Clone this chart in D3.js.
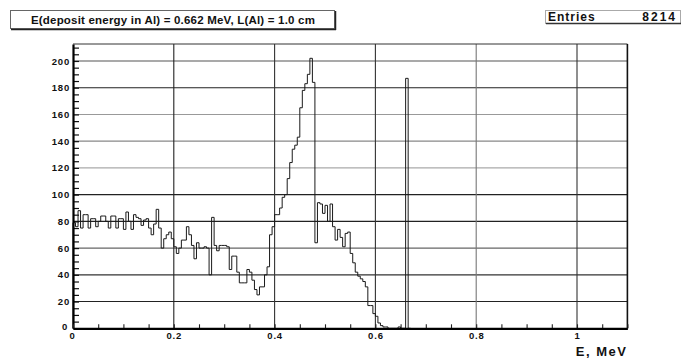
<!DOCTYPE html>
<html><head><meta charset="utf-8">
<script src="https://cdn.jsdelivr.net/npm/d3@7"></script>
<style>
html,body{margin:0;padding:0;background:#fff;}
svg{display:block;}
text{font-family:"Liberation Sans",Arial,Helvetica,sans-serif;font-weight:bold;fill:#111;}
</style></head>
<body>
<script>
// ---- data ----
const titleText = "E(deposit energy in Al) = 0.662 MeV, L(Al) = 1.0 cm";
const entriesLabel = "Entries";
const entriesValue = "8214";
const xAxisTitle = "E, MeV";
const binWidth = 0.005;           // MeV
const xDomain = [0, 1.1];
const yDomain = [0, 212.7];
const xTickValues = [0, 0.2, 0.4, 0.6, 0.8, 1];
const xTickLabels = ["0", "0.2", "0.4", "0.6", "0.8", "1"];
const yTickValues = [0, 20, 40, 60, 80, 100, 120, 140, 160, 180, 200];
const yTickLabels = ["0", "20", "40", "60", "80", "100", "120", "140", "160", "180", "200"];
// counts per 0.005 MeV bin, starting at E = 0
const counts = [
  79, 76, 88, 75, 85, 85, 75, 82, 82, 76,
  80, 84, 84, 80, 75, 84, 84, 75, 82, 82,
  74, 87, 80, 74, 85, 83, 82, 77, 81, 82,
  75, 70, 78, 89, 75, 60, 67, 70, 72, 67,
  61, 56, 60, 66, 66, 76, 70, 62, 52, 64,
  60, 60, 61, 60, 40, 83, 62, 58, 62, 62,
  62, 61, 44, 54, 54, 42, 34, 34, 34, 44,
  42, 36, 29, 25, 31, 31, 40, 46, 70, 76,
  85, 85, 90, 98, 100, 112, 124, 134, 137, 143,
  165, 178, 183, 190, 202, 184, 64, 94, 93, 86,
  92, 80, 93, 76, 66, 74, 68, 61, 71, 72,
  56, 49, 42, 39, 37, 35, 31, 17, 17, 11,
  9, 4, 2, 1, 1, 0, 0, 0, 0, 1,
  0, 0, 187, 0
];

// ---- drawing ----
const W = 681, H = 361;
const FONT = "'Liberation Sans',Arial,sans-serif";
const svg = d3.select("body").append("svg").attr("width", W).attr("height", H);
const x = d3.scaleLinear().domain(xDomain).range([73, 627.4]);
const y = d3.scaleLinear().domain(yDomain).range([328.3, 44]);

// grid (scan gives uneven darkness)
const hGridColor = {20:"#222",40:"#333",60:"#666",80:"#222",100:"#222",120:"#aaa",140:"#888",160:"#999",180:"#222",200:"#555"};
svg.append("g").selectAll("line").data(yTickValues.filter(v => v > 0)).join("line")
  .attr("x1", x(xDomain[0])).attr("x2", x(xDomain[1]))
  .attr("y1", d => y(d)).attr("y2", d => y(d))
  .attr("stroke", d => hGridColor[d] || "#333").attr("stroke-width", 1.1);
const vGridColor = {0.2:"#222",0.4:"#333",0.6:"#333",0.8:"#777",1:"#333"};
svg.append("g").selectAll("line").data(xTickValues.filter(v => v > 0)).join("line")
  .attr("x1", d => x(d)).attr("x2", d => x(d))
  .attr("y1", y(yDomain[0])).attr("y2", y(yDomain[1]))
  .attr("stroke", d => vGridColor[d] || "#333").attr("stroke-width", 1.1);

// histogram outline
const edges = counts.map((c, i) => [i * binWidth, c]);
edges.push([counts.length * binWidth, 0]);
const pts = [[0, 0]].concat(edges);
const line = d3.line().x(d => x(d[0])).y(d => y(d[1])).curve(d3.curveStepAfter);
svg.append("path").attr("d", line(pts)).attr("fill", "none")
  .attr("stroke", "#1a1a1a").attr("stroke-width", 1);

// frame
svg.append("line").attr("x1", x(0)).attr("x2", x(1.1)).attr("y1", y(yDomain[1])).attr("y2", y(yDomain[1]))
  .attr("stroke", "#333").attr("stroke-width", 1);
svg.append("line").attr("x1", x(1.1)).attr("x2", x(1.1)).attr("y1", y(yDomain[1])).attr("y2", y(0))
  .attr("stroke", "#111").attr("stroke-width", 1.6);

// axes
const yMinor = d3.range(0, 212, 5);
const yAxisMinor = d3.axisRight(y).tickValues(yMinor).tickSize(6).tickFormat("");
const gyMinor = svg.append("g").attr("transform", `translate(${x(0)},0)`).call(yAxisMinor);
gyMinor.select(".domain").remove();
gyMinor.selectAll("line").attr("stroke", "#111").attr("stroke-width", 1.2);

const yAxis = d3.axisLeft(y).tickValues(yTickValues).tickSize(0).tickPadding(3)
  .tickFormat((d, i) => yTickLabels[i]);
const gy = svg.append("g").attr("transform", `translate(${x(0)},0)`).call(yAxis);
gy.select(".domain").attr("stroke", "#000").attr("stroke-width", 2.2);
gy.selectAll("text").attr("font-size", 9.5).style("font-family", FONT)
  .style("font-weight", "bold").style("letter-spacing", "0.8px").attr("fill", "#111");
gy.selectAll(".tick").filter(d => d === 0).select("text").attr("dx", -2).attr("dy", "0.1em");

const xMinor = d3.range(0, 1.1001, 0.05);
const xAxisMinor = d3.axisTop(x).tickValues(xMinor).tickSize(4).tickFormat("");
const gxMinor = svg.append("g").attr("transform", `translate(0,${y(0)})`).call(xAxisMinor);
gxMinor.select(".domain").remove();
gxMinor.selectAll("line").attr("stroke", "#222").attr("stroke-width", 1.1);

const xAxis = d3.axisBottom(x).tickValues(xTickValues).tickSize(0).tickPadding(4)
  .tickFormat((d, i) => xTickLabels[i]);
const gx = svg.append("g").attr("transform", `translate(0,${y(0)})`).call(xAxis);
gx.select(".domain").attr("stroke", "#000").attr("stroke-width", 2.2);
gx.selectAll("text").attr("font-size", 9.5).style("font-family", FONT)
  .style("font-weight", "bold").style("letter-spacing", "0.8px").attr("fill", "#111");
gx.selectAll(".tick").filter(d => d === 0).select("text").attr("dx", -1);

// axis title
svg.append("text").attr("x", x(1.1)).attr("y", 356).attr("text-anchor", "end")
  .attr("font-size", 13).style("letter-spacing", "1.5px").text(xAxisTitle);

// title box
svg.append("rect").attr("x", 10.5).attr("y", 10.5).attr("width", 324).attr("height", 18)
  .attr("fill", "#fff").attr("stroke", "#666").attr("stroke-width", 1);
svg.append("line").attr("x1", 11).attr("x2", 336).attr("y1", 29.5).attr("y2", 29.5).attr("stroke", "#222").attr("stroke-width", 1.5);
svg.append("line").attr("x1", 335.5).attr("x2", 335.5).attr("y1", 11).attr("y2", 30).attr("stroke", "#222").attr("stroke-width", 1.5);
svg.append("text").attr("x", 173).attr("y", 24).attr("text-anchor", "middle")
  .attr("font-size", 11.5).style("letter-spacing", "0.2px").text(titleText);

// entries box
svg.append("rect").attr("x", 545.5).attr("y", 10.5).attr("width", 135).attr("height", 13)
  .attr("fill", "#fff").attr("stroke", "#aaa").attr("stroke-width", 1);
svg.append("line").attr("x1", 546).attr("x2", 681).attr("y1", 23.5).attr("y2", 23.5).attr("stroke", "#333").attr("stroke-width", 1.3);
svg.append("text").attr("x", 548).attr("y", 21).attr("font-size", 12).style("letter-spacing", "1px").text(entriesLabel);
svg.append("text").attr("x", 677).attr("y", 21).attr("text-anchor", "end").attr("font-size", 12)
  .style("letter-spacing", "2px").text(entriesValue);
</script>
</body></html>
